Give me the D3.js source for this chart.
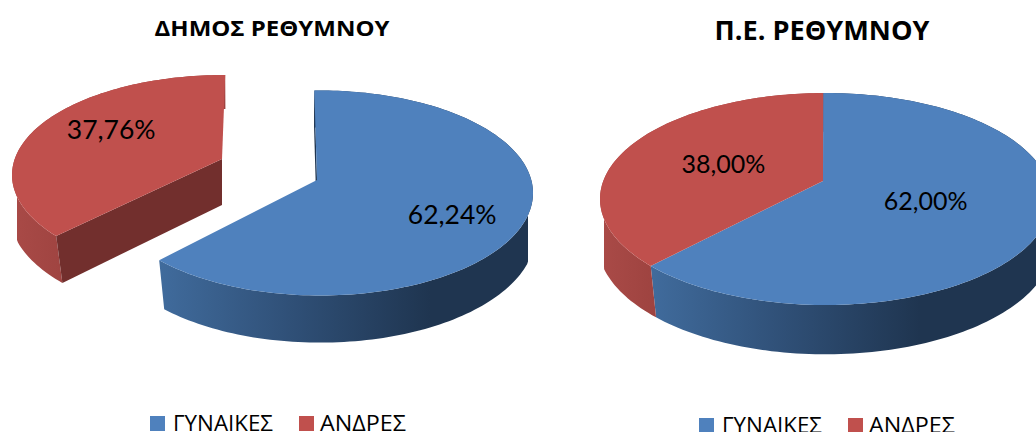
<!DOCTYPE html>
<html>
<head>
<meta charset="utf-8">
<script src="https://cdn.jsdelivr.net/npm/d3@7"></script>
<style>
html, body { margin: 0; padding: 0; background: #fff; overflow: hidden; }
svg { display: block; }
text { font-family: Lato, "Open Sans", sans-serif; fill: #000; }
.greek { font-family: "Open Sans", sans-serif; }
</style>
</head>
<body>
<svg id="chart" width="1036" height="432"></svg>
<script>
var categories = ["ΓΥΝΑΙΚΕΣ", "ΑΝΔΡΕΣ"];
var dimosTitle = "ΔΗΜΟΣ ΡΕΘΥΜΝΟΥ";
var dimosValues = [62.24, 37.76];
var peTitle = "Π.Ε. ΡΕΘΥΜΝΟΥ";
var peValues = [62.00, 38.00];

var width = 1036;
var height = 432;
var svg = d3.select("#chart");
var defs = svg.append("defs");

var colors = d3.scaleOrdinal().domain(categories).range(["#4f81bd", "#c0504d"]);

// horizontal shading of the pie walls
function wallGradient(id, x0, x1, stops) {
    var g = defs.append("linearGradient")
        .attr("id", id)
        .attr("gradientUnits", "userSpaceOnUse")
        .attr("x1", x0).attr("x2", x1).attr("y1", 0).attr("y2", 0);
    stops.forEach(function(s) {
        g.append("stop").attr("offset", s[0]).attr("stop-color", s[1]);
    });
}

var pie = d3.pie().sort(null).value(function(d) { return d; });

// move a point of the unit disc so that the disc centre lands on a (keeps the
// disc on itself), this gives the perspective look of the excel 3d pie
function perspective(p, a) {
    var aa = a[0] * a[0] + a[1] * a[1];
    var dot = p[0] * a[0] + p[1] * a[1];
    var s = Math.sqrt(1 - aa);
    var k = aa > 0 ? dot / aa : 0;
    var par = [a[0] * k, a[1] * k];
    var den = 1 + dot;
    return [
        (par[0] + a[0] + s * (p[0] - par[0])) / den,
        (par[1] + a[1] + s * (p[1] - par[1])) / den
    ];
}

// e is one ellipse of the pie, apex where the slices meet
function projector(e) {
    var a = [(e.apex[0] - e.cx) / e.rx, (e.apex[1] - e.cy) / e.ry];
    return function(angle, t) {
        var th = angle + e.turn;
        var q = perspective([t * Math.sin(th), -t * Math.cos(th)], a);
        var x = e.cx + e.rx * q[0];
        // the wall of the original goes straight down at the far sides
        if (e.xMin !== undefined) x = Math.max(e.xMin, Math.min(e.xMax, x));
        return [x, e.cy + e.ry * q[1]];
    };
}

var line = d3.line();

function arcPoints(proj, a0, a1) {
    var n = Math.ceil(Math.abs(a1 - a0) * 40);
    return d3.range(n + 1).map(function(i) {
        return proj(a0 + (a1 - a0) * i / n, 1);
    });
}

function drawPie(cfg, values) {
    var arcs = pie(values);
    var g = svg.append("g");

    arcs.forEach(function(d, i) {
        var e = cfg.slices[i];
        var top = projector(e);
        var base = projector({
            cx: e.cx, cy: e.cy + e.drop, rx: e.rx * 1.01, ry: e.ry * 1.05,
            apex: [e.apex[0], e.apex[1] + e.depth], turn: e.turn,
            xMin: e.cx - e.rx + e.inset, xMax: e.cx + e.rx - e.inset
        });
        e.top = top;
        e.base = base;

        var topArc = arcPoints(top, d.startAngle, d.endAngle);
        var baseArc = arcPoints(base, d.startAngle, d.endAngle);

        // outer wall
        g.append("path")
            .attr("d", line(topArc.concat(baseArc.slice().reverse())) + "Z")
            .attr("fill", "url(#" + e.wall + ")");

        // cut faces for the exploded slices
        if (e.cutStart) {
            g.append("path")
                .attr("d", line([top(d.startAngle, 1), top(d.startAngle, 0), base(d.startAngle, 0), base(d.startAngle, 1)]) + "Z")
                .attr("fill", e.cutStart);
        }
    });

    arcs.forEach(function(d, i) {
        var e = cfg.slices[i];
        g.append("path")
            .attr("d", line(arcPoints(e.top, d.startAngle, d.endAngle).concat([e.top(0, 0)])) + "Z")
            .attr("fill", colors(categories[i]));
    });

    arcs.forEach(function(d, i) {
        var e = cfg.slices[i];
        var mid = (d.startAngle + d.endAngle) / 2;
        var p = e.top(mid, e.labelR);
        g.append("text")
            .attr("x", p[0])
            .attr("y", p[1] + e.labelDy)
            .attr("text-anchor", "middle")
            .style("font-size", cfg.labelSize + "px")
            .text(d3.format(".2f")(d.value).replace(".", ",") + "%");
    });

    // title
    g.append("text")
        .attr("class", "greek")
        .attr("x", cfg.titleX)
        .attr("y", cfg.titleY)
        .attr("text-anchor", "middle")
        .attr("textLength", cfg.titleLen)
        .attr("lengthAdjust", "spacingAndGlyphs")
        .style("font-size", cfg.titleSize + "px")
        .style("font-weight", "bold")
        .text(cfg.title);

    // legend
    categories.forEach(function(c, i) {
        var l = cfg.legend[i];
        g.append("rect")
            .attr("x", l.box).attr("y", cfg.legendY)
            .attr("width", 15).attr("height", 15)
            .attr("fill", colors(c));
        g.append("text")
            .attr("class", "greek")
            .attr("x", l.text)
            .attr("y", cfg.legendY + 15)
            .attr("textLength", l.len)
            .attr("lengthAdjust", "spacingAndGlyphs")
            .style("font-size", "22px")
            .text(c);
    });
}

wallGradient("blueWallA", 160, 430, [[0, "#406b9c"], [0.5, "#2f4f76"], [1, "#1f3550"]]);
wallGradient("redWallA", 12, 70, [[0, "#a94a47"], [1, "#9e4340"]]);
wallGradient("blueWallB", 652, 920, [[0, "#406b9c"], [0.5, "#2f4f76"], [1, "#1f3550"]]);
wallGradient("redWallB", 604, 655, [[0, "#a94a47"], [1, "#9e4340"]]);

drawPie({
    title: dimosTitle, titleX: 272, titleY: 36, titleLen: 235, titleSize: 21, labelSize: 26.5,
    legendY: 416,
    legend: [{box: 150, text: 173, len: 100}, {box: 299, text: 320, len: 86}],
    slices: [
        {cx: 320, cy: 193, rx: 213, ry: 102.5, apex: [317, 180], turn: -0.015, depth: 48, drop: 42, inset: 5,
            wall: "blueWallA", cutStart: "#1f3550", labelR: 0.66, labelDy: 19},
        {cx: 224, cy: 175, rx: 212, ry: 100, apex: [222, 159], turn: 0.017, depth: 46, drop: 39, inset: 5,
            wall: "redWallA", cutStart: "#722f2d", labelR: 0.6, labelDy: 2}
    ]
}, dimosValues);

drawPie({
    title: peTitle, titleX: 822, titleY: 40, titleLen: 215, titleSize: 26, labelSize: 25,
    legendY: 418,
    legend: [{box: 699, text: 722, len: 100}, {box: 848, text: 869, len: 86}],
    slices: [
        {cx: 825.5, cy: 199, rx: 225.5, ry: 106, apex: [823, 181], turn: 0, depth: 50, drop: 44, inset: 4,
            wall: "blueWallB", labelR: 0.48, labelDy: 10},
        {cx: 825.5, cy: 199, rx: 225.5, ry: 106, apex: [823, 181], turn: 0, depth: 50, drop: 44, inset: 4,
            wall: "redWallB", labelR: 0.5, labelDy: 10}
    ]
}, peValues);
</script>
</body>
</html>
